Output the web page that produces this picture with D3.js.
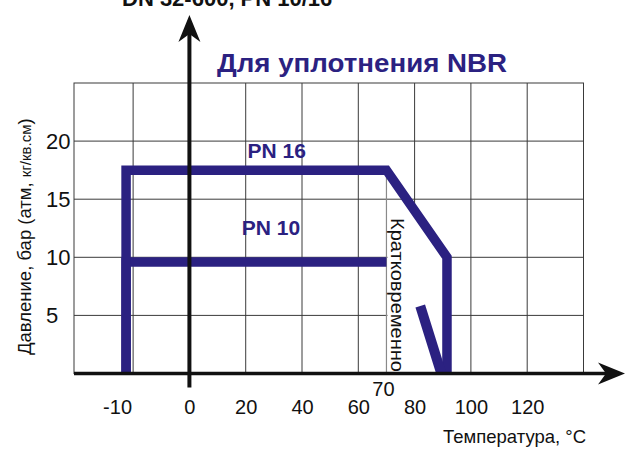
<!DOCTYPE html>
<html>
<head>
<meta charset="utf-8">
<script src="https://cdn.jsdelivr.net/npm/d3@7"></script>
<style>
  body { margin: 0; background: #fff; }
  svg { display: block; font-family: "Liberation Sans", Arial, sans-serif; }
</style>
</head>
<body>
<div id="chart"></div>
<script>
// pressure / temperature limits
var pn16Temp = [-10, -10, 70, 91.5, 91.5];
var pn16Pres = [0, 17.5, 17.5, 10, 0];
var pn10Temp = [-10, -10, 70];
var pn10Pres = [0, 9.6, 9.6];
var shortTemp = [82, 89.5];
var shortPres = [5.8, 0];

var xTicks = [-10, 0, 20, 40, 60, 80, 100, 120];
var yTicks = [5, 10, 15, 20];
var xGridLines = [-20, 0, 20, 40, 60, 80, 100, 120];
var yGridLines = [5, 10, 15, 20];
var markTemp = 70;

var title = "DN 32-600, PN 10/16";
var subtitle = "Для уплотнения NBR";
var seriesLabels = [
  {text: "PN 16", t: 31, p: 18.55},
  {text: "PN 10", t: 29, p: 11.9}
];

var navy = "#2b2181";
var W = 635, H = 450;
var marg = {left: 74, right: 583.5, top: 83, bot: 373.5};

var svg = d3.select("#chart").append("svg")
  .attr("width", W).attr("height", H);

// linear grid scale, the drawing squeezes the -10 column so data gets a piecewise scale
var xg = d3.scaleLinear().domain([-41, 140]).range([marg.left, marg.right]);
var x = d3.scaleLinear().domain([-10, 0, 140]).range([xg(-22.5), xg(0), xg(140)]);
var y = d3.scaleLinear().domain([0, 25]).range([marg.bot, marg.top]);

// grid
var grid = svg.append("g").attr("stroke", "#3a3a3a").attr("stroke-width", 1);
grid.append("rect")
  .attr("x", xg(-41)).attr("y", y(25))
  .attr("width", xg(140) - xg(-41)).attr("height", y(0) - y(25))
  .attr("fill", "none");
grid.selectAll(".vg").data(xGridLines).enter().append("line")
  .attr("x1", d => xg(d)).attr("x2", d => xg(d))
  .attr("y1", y(25)).attr("y2", y(0));
grid.selectAll(".hg").data(yGridLines).enter().append("line")
  .attr("x1", xg(-41)).attr("x2", xg(140))
  .attr("y1", d => y(d)).attr("y2", d => y(d));

// white box behind the "short term" note
svg.append("rect")
  .attr("x", x(markTemp) + 1).attr("y", y(14.5))
  .attr("width", x(91.5) - x(markTemp) - 1).attr("height", y(0) - y(14.5))
  .attr("fill", "#fff");

// 70 marker
svg.append("line")
  .attr("x1", x(markTemp)).attr("x2", x(markTemp))
  .attr("y1", y(17.5)).attr("y2", y(0))
  .attr("stroke", "#8a8a8a").attr("stroke-width", 1.2);

var line = d3.line().x(d => x(d[0])).y(d => y(d[1]));

function drawSeries(temps, pres, w) {
  var pts = temps.map((t, i) => [t, pres[i]]);
  return svg.append("path")
    .attr("d", line(pts))
    .attr("fill", "none")
    .attr("stroke", navy)
    .attr("stroke-width", w || 9.5)
    .attr("stroke-linejoin", "miter")
    .attr("stroke-linecap", "butt");
}
drawSeries(pn10Temp, pn10Pres);
drawSeries(pn16Temp, pn16Pres);
drawSeries(shortTemp, shortPres, 10);

// axes with arrows
function arrowHead(tx, ty, ang) {
  // notched arrow, tip at tx,ty pointing to ang (deg)
  var pts = [[0, 0], [-27, -11], [-19, 0], [-27, 11]];
  svg.append("path")
    .attr("d", "M" + pts.join("L") + "Z")
    .attr("transform", "translate(" + tx + "," + ty + ") rotate(" + ang + ")")
    .attr("fill", "#111");
}
svg.append("line")
  .attr("x1", xg(-41)).attr("x2", 610)
  .attr("y1", y(0)).attr("y2", y(0))
  .attr("stroke", "#111").attr("stroke-width", 3.5);
arrowHead(625, y(0), 0);

svg.append("line")
  .attr("x1", xg(0)).attr("x2", xg(0))
  .attr("y1", y(0) + 14).attr("y2", 30)
  .attr("stroke", "#111").attr("stroke-width", 4);
arrowHead(xg(0), 15, -90);

// tick labels through d3 axes
var xAxis = svg.append("g")
  .attr("transform", "translate(0," + y(0) + ")")
  .call(d3.axisBottom(x).tickValues(xTicks).tickSize(0).tickPadding(26).tickFormat(d => String(d)));
xAxis.select(".domain").remove();
xAxis.selectAll("text")
  .attr("font-size", 20).attr("font-family", "Liberation Sans, Arial, sans-serif").attr("fill", "#111")
  .attr("dx", d => d < 0 ? -9 : 0);

var yAxis = svg.append("g")
  .attr("transform", "translate(46,0)")
  .call(d3.axisLeft(y).tickValues(yTicks).tickSize(0).tickPadding(0));
yAxis.select(".domain").remove();
yAxis.selectAll("text")
  .attr("x", 0).attr("text-anchor", "start")
  .attr("font-size", 22).attr("font-family", "Liberation Sans, Arial, sans-serif").attr("fill", "#111");

// 70 label
svg.append("text")
  .attr("x", x(markTemp) - 3).attr("y", y(0) + 22.5)
  .attr("text-anchor", "middle").attr("font-size", 20).attr("fill", "#111")
  .text(markTemp);

// titles
svg.append("text")
  .attr("x", 122).attr("y", 6)
  .attr("font-size", 22).attr("font-weight", "bold").attr("fill", "#111")
  .text(title);
svg.append("text")
  .attr("x", 217).attr("y", 72)
  .attr("font-size", 25).attr("font-weight", "bold").attr("fill", navy)
  .attr("textLength", 290).attr("lengthAdjust", "spacingAndGlyphs")
  .text(subtitle);

svg.selectAll(".pnlab").data(seriesLabels).enter().append("text")
  .attr("x", d => x(d.t)).attr("y", d => y(d.p))
  .attr("text-anchor", "middle")
  .attr("font-size", 21).attr("font-weight", "bold").attr("fill", navy)
  .text(d => d.text);

// short term note, rotated
svg.append("text")
  .attr("transform", "translate(" + (x(markTemp) + 4.5) + "," + 218 + ") rotate(90)")
  .attr("font-size", 18).attr("fill", "#111")
  .attr("textLength", 154).attr("lengthAdjust", "spacingAndGlyphs")
  .text("Кратковременно");

// axis titles
var yl = svg.append("text")
  .attr("transform", "translate(31,355) rotate(-90)")
  .attr("font-size", 18.5).attr("fill", "#111");
yl.append("tspan").text("Давление, бар (атм, ");
yl.append("tspan").attr("font-size", 15).text("кг/кв.см");
yl.append("tspan").text(")");

svg.append("text")
  .attr("x", 443).attr("y", 443)
  .attr("font-size", 18.5).attr("fill", "#111")
  .text("Температура, °C");
</script>
</body>
</html>
